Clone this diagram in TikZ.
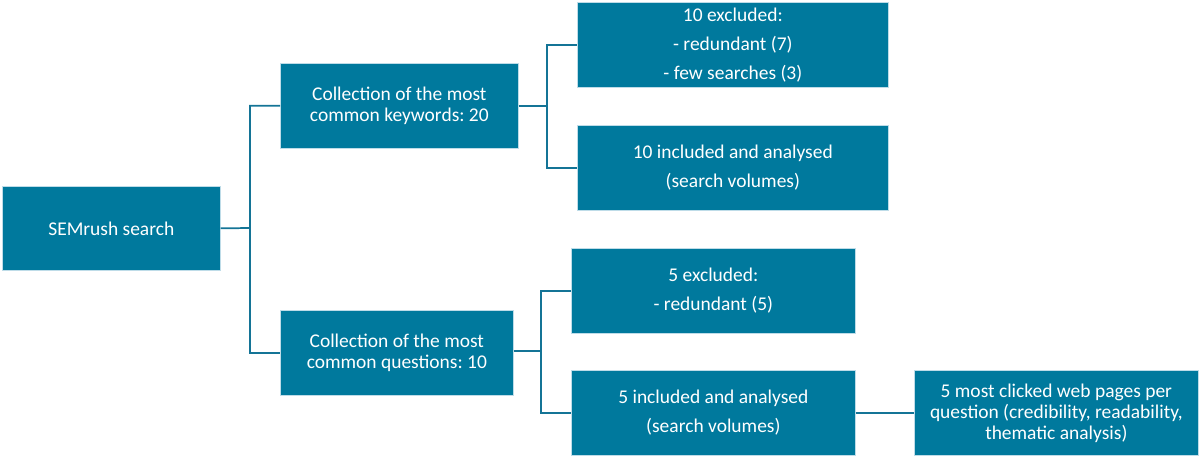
\documentclass[tikz,border=0pt]{standalone}
\usepackage{fontspec}
\setmainfont{Carlito}
\frenchspacing
\definecolor{boxfill}{RGB}{0,121,157}
\definecolor{boxedge}{RGB}{190,220,232}
\definecolor{linecol}{RGB}{20,116,150}
\tikzset{
  box/.style={rectangle, fill=boxfill, draw=boxedge, line width=0.5pt, text=white,
    anchor=north west, align=center, inner sep=2pt, font=\fontsize{14.6}{15.75}\selectfont},
  loose/.style={font=\fontsize{14.6}{21.75}\selectfont},
  conn/.style={draw=linecol, line width=1.3pt}
}
\begin{document}
\begin{tikzpicture}[x=0.75pt,y=-0.75pt]
\useasboundingbox (0,0) rectangle (1200,458);
\node[box, minimum width=163.5pt, minimum height=63pt] (sem) at (2,186) {SEMrush search};
\node[box, minimum width=178.5pt, minimum height=63.75pt] (kw) at (280,63) {Collection of the most\\common keywords: 20};
\node[box, minimum width=174.75pt, minimum height=63.75pt] (qu) at (280,310) {Collection of the most\\common questions: 10};
\node[box, loose, minimum width=233.25pt, minimum height=63.75pt] (kex) at (577,2) {10 excluded:\\- redundant (7)\\- few searches (3)};
\node[box, loose, minimum width=233.25pt, minimum height=63.75pt] (kin) at (577,125) {10 included and analysed\\(search volumes)};
\node[box, loose, minimum width=213pt, minimum height=63.75pt] (qex) at (571,248) {5 excluded:\\- redundant (5)};
\node[box, loose, minimum width=213pt, minimum height=63.75pt] (qin) at (571,370) {5 included and analysed\\(search volumes)};
\node[box, minimum width=213pt, minimum height=63.75pt] (web) at (914,370) {5 most clicked web pages per\\question (credibility, readability,\\thematic analysis)};
\coordinate (j1) at (250,228);
\coordinate (j2) at (547,106);
\coordinate (j3) at (541,351);
\draw[conn] (sem.east) -- (j1) |- (kw.west);
\draw[conn] (j1) |- (qu.west);
\draw[conn] (kw.east |- j2) -- (j2) |- (kex.west);
\draw[conn] (j2) |- (kin.west);
\draw[conn] (qu.east |- j3) -- (j3) |- (qex.west);
\draw[conn] (j3) |- (qin.west);
\draw[conn] (qin.east) -- (web.west);
\end{tikzpicture}
\end{document}
